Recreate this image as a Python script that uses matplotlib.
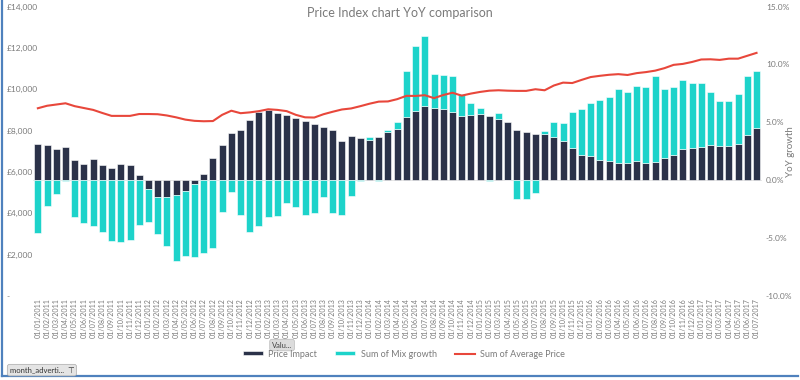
import matplotlib
matplotlib.use("Agg")
import matplotlib.pyplot as plt
import matplotlib.lines as mlines
import numpy as np
import pandas as pd

# months shown on the x axis (01/01/2011 .. 01/07/2017)
months = pd.date_range("2011-01-01", "2017-07-01", freq="MS").strftime("%d/%m/%Y").tolist()

# YoY growth split (%)
price_impact = [3.12, 3.06, 2.72, 2.83, 1.74, 1.40, 1.79, 1.31, 1.05, 1.36, 1.31, 0.45,
                -0.79, -1.48, -1.48, -1.28, -0.90, -0.36, 0.53, 1.91, 3.00, 4.07, 4.35, 5.19,
                5.93, 6.05, 5.84, 5.60, 5.37, 5.14, 4.86, 4.63, 4.31, 3.39, 3.85, 3.65,
                3.45, 3.74, 4.14, 4.45, 5.49, 5.98, 6.38, 6.26, 6.15, 5.86, 5.52, 5.60,
                5.69, 5.52, 5.29, 5.06, 4.31, 4.14, 3.96, 4.00, 3.74, 3.42, 2.79, 2.13,
                2.07, 1.75, 1.64, 1.52, 1.52, 1.66, 1.52, 1.55, 1.87, 2.13, 2.73, 2.76,
                2.90, 3.04, 2.99, 2.96, 3.10, 3.88, 4.48]
mix_growth = [-4.55, -2.26, -1.19, -0.05, -3.20, -3.69, -4.00, -4.50, -5.27, -5.33, -5.20, -3.84,
              -2.79, -3.16, -4.25, -5.72, -5.67, -6.32, -6.31, -5.88, -2.72, -1.02, -3.00, -4.50,
              -4.00, -3.15, -3.09, -1.95, -2.30, -2.99, -2.87, -1.47, -2.87, -3.05, -1.41, -0.05,
              0.31, -0.05, 0.23, 0.58, 3.94, 5.60, 6.09, 2.91, 2.93, 3.13, 1.95, 1.07,
              0.57, -0.05, 0.51, 0.00, -1.67, -1.67, -1.13, 0.26, 1.29, 1.49, 3.07, 4.02,
              4.63, 5.18, 5.54, 6.39, 6.07, 6.50, 6.55, 7.42, 6.00, 5.94, 5.91, 5.66,
              5.49, 4.55, 3.88, 3.91, 4.34, 5.09, 4.92]

# average price (£), left axis
avg_price = [9080, 9200, 9260, 9320, 9180, 9090, 9000, 8850, 8710, 8710, 8710, 8800,
             8800, 8790, 8730, 8640, 8530, 8470, 8450, 8460, 8760, 8960, 8840, 8880,
             8940, 9030, 9000, 8940, 8760, 8640, 8630, 8790, 8910, 9020, 9070, 9180,
             9300, 9400, 9410, 9520, 9680, 9676, 9710, 9570, 9720, 9830, 9690, 9790,
             9870, 9930, 9950, 9930, 9920, 9920, 10000, 9950, 10180, 10320, 10300, 10450,
             10590, 10650, 10700, 10730, 10690, 10780, 10830, 10900, 11020, 11180, 11226, 11320,
             11440, 11450, 11420, 11480, 11480, 11620, 11760]

pct_ticks = [-10, -5, 0, 5, 10, 15]
gbp_ticks = [0, 2000, 4000, 6000, 8000, 10000, 12000, 14000]

DARK = "#2b3249"
CYAN = "#1dd3ca"
RED = "#e8473b"
GREY = "#7a7a7a"

plt.rcParams["font.family"] = ["Lato", "DejaVu Sans"]

fig = plt.figure(figsize=(8, 3.8), dpi=100)
ax = fig.add_axes([0.041, 0.2216, 0.911, 0.761])
ax2 = ax.twinx()   # twinx resets ax ticks, so set sides afterwards

x = np.arange(len(months))
p = np.array(price_impact)
m = np.array(mix_growth)
mix_bottom = np.where(p * m > 0, p, 0)

ax.bar(x, p, width=0.76, color=DARK, edgecolor="white", linewidth=0.4, label="Price Impact", zorder=2)
ax.bar(x, m, bottom=mix_bottom, width=0.76, color=CYAN, edgecolor="white", linewidth=0.4,
       label="Sum of Mix growth", zorder=2)
ax.axhline(0, color="#dddddd", lw=0.5, zorder=1)

ax.set_xlim(-0.55, len(months) - 0.45)
ax.set_ylim(-10, 15)
ax.yaxis.tick_right()
ax.yaxis.set_label_position("right")
ax.set_yticks(pct_ticks)
ax.set_yticklabels([f"{t:.1f}%" for t in pct_ticks])
ax.tick_params(axis="y", length=0, pad=3, labelsize=6, labelcolor=GREY)
ax.set_ylabel("YoY growth", color=GREY, fontsize=7, rotation=90, va="center")
ax.yaxis.set_label_coords(1.04, 0.5)
ax.set_xticks(x)
ax.set_xticklabels(months, rotation=90, fontsize=5.1, color=GREY)
ax.tick_params(axis="x", length=0, pad=2)

ax2.plot(x, avg_price, color=RED, lw=1.5, label="Sum of Average Price", zorder=3)
ax2.set_ylim(0, 14000)
ax2.yaxis.tick_left()
ax2.set_yticks(gbp_ticks)
ax2.set_yticklabels(["-" if t == 0 else f"£{t:,}" for t in gbp_ticks])
ax2.tick_params(axis="y", length=0, pad=19, labelsize=6, labelcolor=GREY)
for lab in ax2.get_yticklabels():
    lab.set_ha("left")

for a in (ax, ax2):
    for s in a.spines.values():
        s.set_visible(False)

fig.text(0.5, 0.967, "Price Index chart YoY comparison", ha="center", va="center",
         fontsize=9, color=GREY)

h1, l1 = ax.get_legend_handles_labels()
h2, l2 = ax2.get_legend_handles_labels()
fig.legend(h1 + h2, l1 + l2, loc="center", bbox_to_anchor=(0.505, 0.068), ncol=3,
           frameon=False, fontsize=6.5, labelcolor=GREY, handlelength=2.2,
           handleheight=0.3, columnspacing=2.0, handletextpad=0.6)

fig.text(0.34, 0.092, "Valu...", fontsize=5.5, color="#444444", ha="left", va="center",
         bbox=dict(boxstyle="round,pad=0.3", fc="#dcdcdc", ec="#bbbbbb", lw=0.5))
fig.text(0.012, 0.026, "month_adverti...  ⊤", fontsize=5.5, color="#333333", ha="left",
         va="center", bbox=dict(boxstyle="round,pad=0.3", fc="#e4e4e4", ec="#aaaaaa", lw=0.5))

# blue frame on left and bottom of the visual
blue = "#4f81bd"
fig.add_artist(mlines.Line2D([0.003, 0.003], [0.01, 1.0], transform=fig.transFigure,
                             color=blue, lw=1.6, zorder=0))
fig.add_artist(mlines.Line2D([0.003, 0.997], [0.01, 0.01], transform=fig.transFigure,
                             color=blue, lw=1.6, zorder=0))

fig.savefig("out.png", dpi=100)
